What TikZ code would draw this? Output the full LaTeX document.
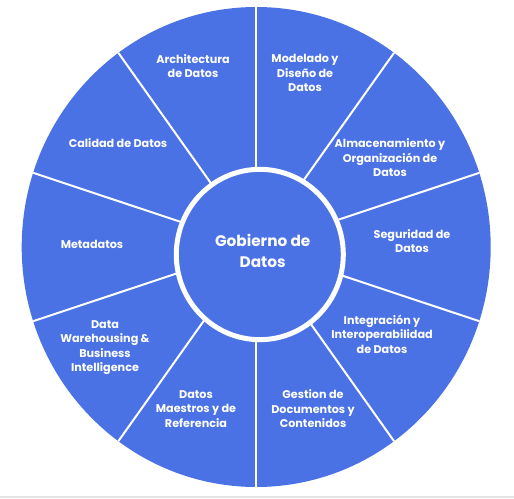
\documentclass[tikz,border=0pt]{standalone}
\usepackage{fontspec}
\setmainfont{Poppins}
\definecolor{wheelblue}{HTML}{4A72E4}
\definecolor{bottomgray}{HTML}{E3E3E3}
\begin{document}
\begin{tikzpicture}[x=1pt,y=-1pt,
  lbl/.style={text=white,font=\bfseries\fontsize{11.2}{14.5}\selectfont,align=center,inner sep=0pt},
  ctr/.style={text=white,font=\bfseries\fontsize{15.3}{20.5}\selectfont,align=center,inner sep=0pt},
  spoke/.style={draw=white,line width=2pt}]
\useasboundingbox (0,0) rectangle (514,498);
\fill[bottomgray] (0,495.5) rectangle (514,498);
\coordinate (O) at (256.2,247);
\fill[wheelblue] (O) ellipse [x radius=234.5, y radius=240];
\foreach \a in {18,54,90,126,162,198,234,270,306,342}{
  \draw[spoke] (O) -- ++({234.5*cos(\a)},{-240*sin(\a)});
}
\node[circle,draw=white,fill=wheelblue,line width=5pt,minimum size=167pt,yscale=1.02] (hub) at (259.8,254.5) {};
\node[ctr] (gob) at (262.7,251) {Gobierno de\\Datos};
\node[lbl] (arq) at (193,66) {Architectura\\de Datos};
\node[lbl] (mod) at (305,73) {Modelado y\\Diseño de\\Datos};
\node[lbl] (alm) at (390,158) {Almacenamiento y\\Organización de\\Datos};
\node[lbl] (seg) at (412,241) {Seguridad de\\Datos};
\node[lbl] (int) at (382,334) {Integración y\\Interoperabilidad\\de Datos};
\node[lbl] (ges) at (313,409) {Gestion de\\Documentos y\\Contenidos};
\node[lbl] (mae) at (196,409) {Datos\\Maestros y de\\Referencia};
\node[lbl] (dwh) at (105,347.5) {Data\\Warehousing \&\\Business\\Intelligence};
\node[lbl] (met) at (92,244) {Metadatos};
\node[lbl] (cal) at (118,143) {Calidad de Datos};
\end{tikzpicture}
\end{document}
